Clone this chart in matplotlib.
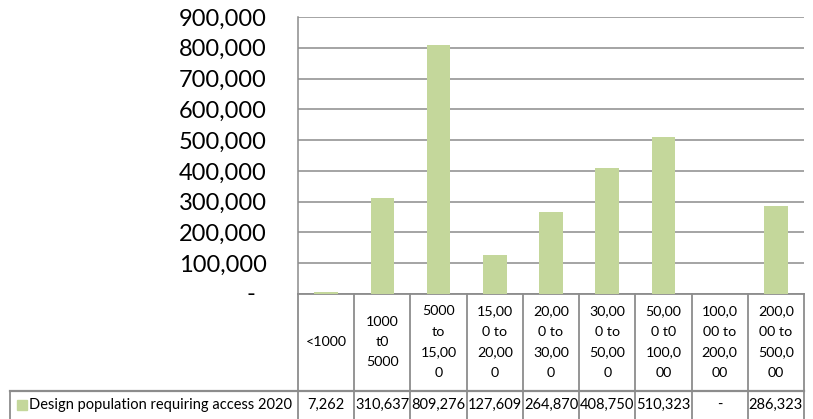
"""Design population requiring access 2020, by settlement size, with an Excel-style data table."""
import matplotlib
matplotlib.use('Agg')
import matplotlib.pyplot as plt
import matplotlib.transforms as mtrans
from matplotlib.lines import Line2D

# --- Data ---
categories = ['<1000', '1000\nt0\n5000', '5000\nto\n15,00\n0', '15,00\n0 to\n20,00\n0',
              '20,00\n0 to\n30,00\n0', '30,00\n0 to\n50,00\n0', '50,00\n0 t0\n100,0\n00',
              '100,0\n00 to\n200,0\n00', '200,0\n00 to\n500,0\n00']
population = [7262, 310637, 809276, 127609, 264870, 408750, 510323, 0, 286323]
series_name = 'Design population requiring access 2020'
y_ticks = [0, 100000, 200000, 300000, 400000, 500000, 600000, 700000, 800000, 900000]

# --- Style ---
BAR = '#c4d79b'
LINE = '#8c8c8c'
INK = '#000000'
W, H = 813, 419

plt.rcParams['font.family'] = ['Lato', 'DejaVu Sans']


def fy(px):
    """pixel row (from top) -> figure fraction"""
    return 1 - px / H


def fx(px):
    return px / W


fig = plt.figure(figsize=(W / 100, H / 100), dpi=100, facecolor='white')
ax = fig.add_axes([fx(298), fy(294), fx(506), 277 / H])

x = list(range(len(categories)))
ax.bar(x, population, width=0.42, color=BAR, zorder=3)

ax.set_xlim(-0.5, len(categories) - 0.5)
ax.set_ylim(0, 900000)
ax.set_yticks(y_ticks)
ax.set_yticklabels([''] + [f'{v:,}' for v in y_ticks[1:]])
ax.tick_params(axis='y', length=0, pad=22.5, labelsize=17, labelcolor=INK)
ax.set_xticks([])
ax.grid(axis='y', color=LINE, linewidth=1.1, zorder=0)
for side in ['top', 'right', 'bottom']:
    ax.spines[side].set_visible(False)
ax.spines['left'].set_color(LINE)
ax.spines['left'].set_linewidth(1.1)

# zero label is written as a dash, set slightly further in
ax.annotate('-', xy=(0, 0), xycoords=('axes fraction', 'data'),
            xytext=(-43 * 0.72, 0), textcoords='offset points',
            ha='right', va='center', fontsize=17, color=INK)

# --- Data table below the plot ---
colx = mtrans.blended_transform_factory(ax.transData, fig.transFigure)
top_y, mid_y, bot_y = fy(294), fy(390.5), fy(419)

# header/column grid
ax.add_line(Line2D([-0.5, len(categories) - 0.5], [top_y, top_y], transform=colx,
                   color=LINE, linewidth=1.3, clip_on=False))
for i in range(len(categories) + 1):
    ax.add_line(Line2D([i - 0.5, i - 0.5], [top_y, bot_y], transform=colx,
                       color=LINE, linewidth=1.3, clip_on=False))

# row separator and legend cell border
fig.add_artist(Line2D([fx(10), fx(804)], [mid_y, mid_y], color=LINE, linewidth=1.6))
fig.add_artist(Line2D([fx(10), fx(10)], [mid_y, bot_y], color=LINE, linewidth=1.3))

header_y = fy(342)
row_y = fy(405)
for i, (cat, val) in enumerate(zip(categories, population)):
    ax.text(i, header_y, cat, transform=colx, ha='center', va='center',
            fontsize=10.3, linespacing=1.85, color=INK)
    ax.text(i, row_y, f'{val:,}' if val else '-', transform=colx,
            ha='center', va='center', fontsize=10.5, color=INK)

# legend key and series name
fig.add_artist(Line2D([fx(21.5)], [row_y], marker='s', markersize=6.5,
                      color=BAR, linestyle='none'))
fig.text(fx(29), row_y, series_name, ha='left', va='center', fontsize=10.5, color=INK)

fig.savefig('out.png', dpi=100, facecolor='white')
